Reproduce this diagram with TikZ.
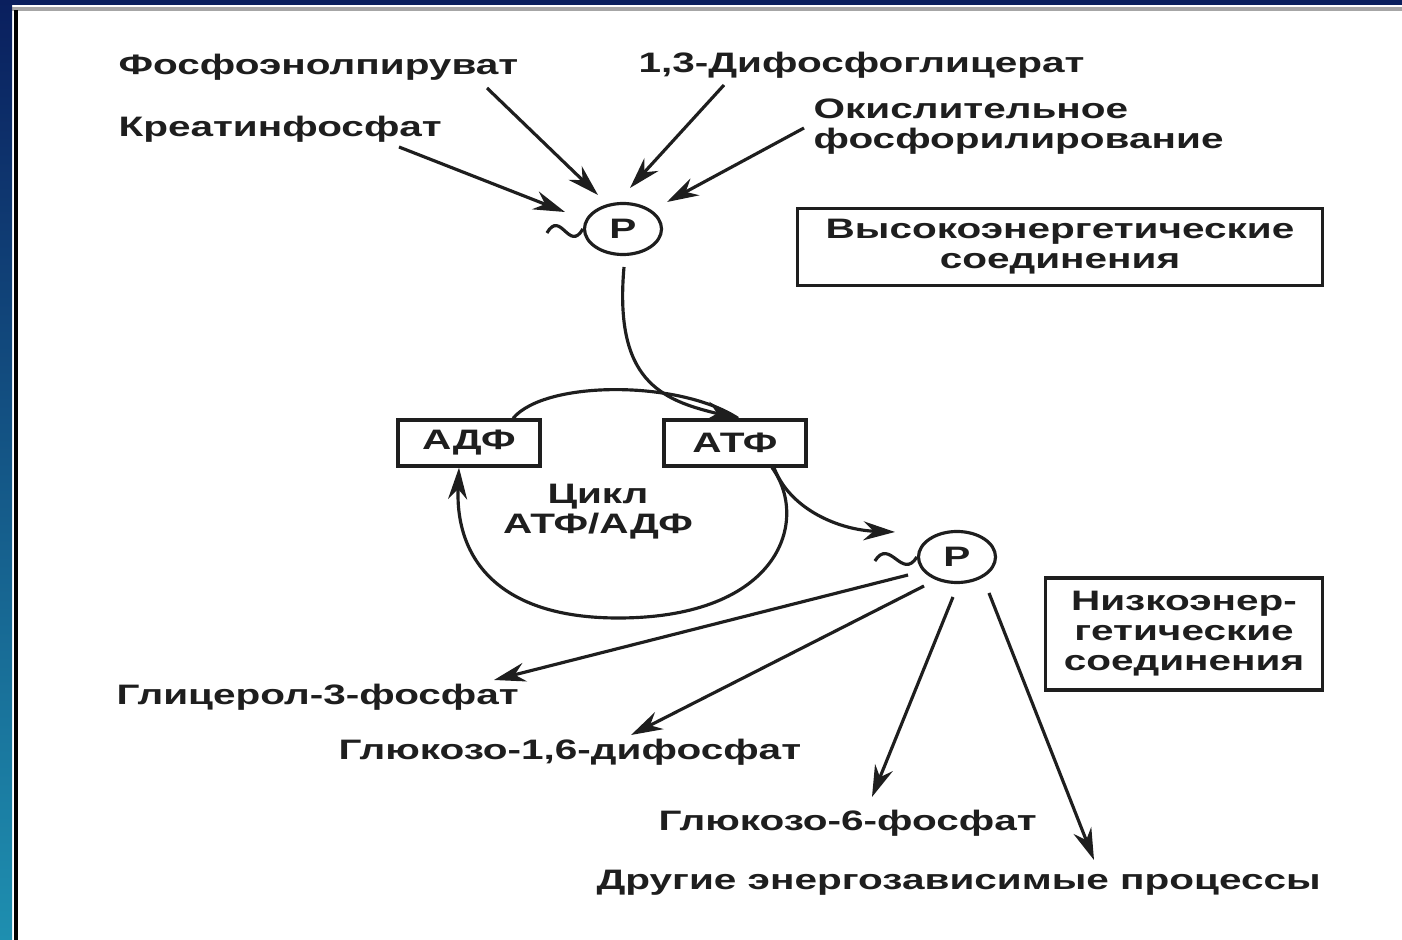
\documentclass[tikz,border=0pt]{standalone}
\usepackage{fontspec}
\usetikzlibrary{arrows.meta, shapes.geometric}
\newfontfamily\dfont[FakeStretch=1.44]{Liberation Sans}
\definecolor{ink}{HTML}{1E1E1E}
\definecolor{framenavy}{HTML}{0A1F5E}
\definecolor{frameteal}{HTML}{1E8FB0}
\tikzset{>={Stealth[length=9pt, width=5.4pt]},
  lbl/.style={font=\dfont\bfseries\fontsize{8}{8.5}\selectfont, text=ink, inner sep=0pt, anchor=west, align=left},
  cbox/.style={draw=ink, line width=0.9pt, inner sep=0pt, align=center,
    font=\dfont\bfseries\fontsize{8}{8.5}\selectfont},
  phos/.style={ellipse, draw=ink, line width=0.9pt, inner sep=0pt,
    minimum width=0.77cm, minimum height=0.51cm, font=\dfont\bfseries\fontsize{8}{8.5}\selectfont}}

\begin{document}
\begin{tikzpicture}[x=0.01cm, y=-0.01cm, line width=0.9pt, color=ink]
\useasboundingbox (0,0) rectangle (1402,940);
% frame
\fill[framenavy] (0,0) rectangle (1402,5);
\draw[gray!70, line width=1pt] (0,9) -- (1402,9);
\shade[top color=framenavy, bottom color=frameteal] (0,0) rectangle (12,940);
\draw[black, line width=1.2pt] (16,10) -- (16,940);

% sources
\node[lbl] (pep) at (117,67) {Фосфоэнолпируват};
\node[lbl] (dpg) at (637,65) {1,3-Дифосфоглицерат};
\node[lbl] (crp) at (117,129) {Креатинфосфат};
\node[lbl] (oxp) at (812,127) {Окислительное\\фосфорилирование};
\node[phos] (p1) at (623,229) {P};
\node[cbox, minimum width=5.24cm, minimum height=0.77cm] (high) at (1060,247) {Высокоэнергетические\\соединения};

% cycle
\node[cbox, minimum width=1.42cm, minimum height=0.46cm] (adf) at (469,443) {АДФ};
\node[cbox, minimum width=1.42cm, minimum height=0.46cm] (atf) at (735,443) {АТФ};
\node[lbl, anchor=center, align=center] (cyc) at (598,512) {Цикл\\АТФ/АДФ};

% sinks
\node[phos] (p2) at (957,557) {P};
\node[cbox, minimum width=2.77cm, minimum height=1.12cm] (low) at (1184,634) {Низкоэнер-\\гетические\\соединения};
\node[lbl] (glyc) at (115,697) {Глицерол-3-фосфат};
\node[lbl] (g16) at (337,752) {Глюкозо-1,6-дифосфат};
\node[lbl] (g6) at (657,823) {Глюкозо-6-фосфат};
\node[lbl] (misc) at (595,883) {Другие энергозависимые процессы};

\draw[->] ([shift={(370,21)}]pep.west) -- ([shift={(-25,-34)}]p1.center);
\draw[->] ([shift={(87,20)}]dpg.west) -- ([shift={(7,-41)}]p1.center);
\draw[->] ([shift={(-8,1)}]oxp.west) -- ([shift={(44,-27)}]p1.center);
\draw[->] ([shift={(282,18)}]crp.west) -- ([shift={(-58,-17)}]p1.center);
\draw ([shift={(-36,4)}]p1.west) .. controls +(14,-24) and +(-14,24) .. (p1.west);

\draw[->] ([shift={(1,38)}]p1.center) .. controls (614,380) and (660,400) .. ([shift={(3,0)}]atf.north);
\draw ([shift={(44,0)}]adf.north) .. controls (545,380) and (680,380) .. ([shift={(3,0)}]atf.north);
\draw[->] ([shift={(37,0)}]atf.south) .. controls (810,520) and (780,618) .. (618,618)
  .. controls (500,618) and (455,560) .. ([shift={(-10,0)}]adf.south);
\draw[->] ([shift={(39,0)}]atf.south) .. controls (790,510) and (840,530) .. ([shift={(-62,-25)}]p2.center);

\draw ([shift={(-42,4)}]p2.west) .. controls +(15,-24) and +(-15,24) .. (p2.west);
\draw[->] ([shift={(-49,18)}]p2.center) -- ([shift={(379,-17)}]glyc.west);
\draw[->] ([shift={(-33,29)}]p2.center) -- ([shift={(294,-17)}]g16.west);
\draw[->] ([shift={(-4,40)}]p2.center) -- ([shift={(215,-26)}]g6.west);
\draw[->] ([shift={(32,36)}]p2.center) -- ([shift={(499,-23)}]misc.west);
\end{tikzpicture}
\end{document}
